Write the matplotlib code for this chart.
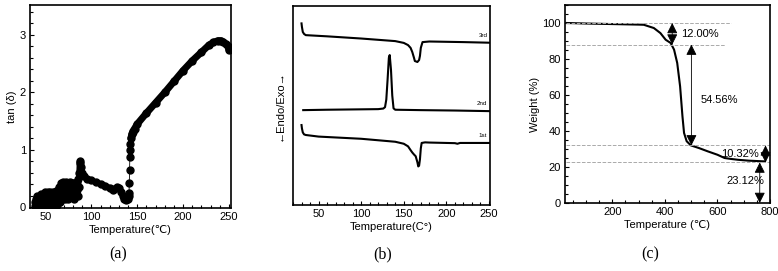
import matplotlib
matplotlib.use('Agg')
import matplotlib.pyplot as plt
from matplotlib.ticker import MultipleLocator

plt.rcParams['font.family'] = ['Liberation Sans', 'DejaVu Sans']
plt.rcParams['font.size'] = 8

# (a) tan(delta) vs temperature: noisy low-temperature part (scatter only)
noise_t = [38, 39, 40, 41, 42, 43, 44, 45, 46, 47,
           38.5, 39.5, 40.5, 41.5, 42.5, 43.5, 44.5, 45.5, 46.5, 47.5,
           48, 49, 50, 51, 52, 53, 54, 55, 56, 57,
           48.5, 49.5, 50.5, 51.5, 52.5, 53.5, 54.5, 55.5, 56.5, 57.5,
           58, 59, 60, 61, 62, 63, 64, 65, 66, 67,
           58.5, 59.5, 60.5, 61.5, 62.5, 63.5, 64.5, 65.5, 66.5, 67.5,
           68, 69, 70, 71, 72, 73, 74, 75, 76, 77,
           68.5, 69.5, 70.5, 71.5, 72.5, 73.5, 74.5, 75.5, 76.5, 77.5,
           78, 79, 80, 81, 82, 83, 84, 85,
           78.5, 79.5, 80.5, 81.5, 82.5, 83.5, 84.5, 85.5]
noise_v = [0.02, 0.15, 0.0, 0.2, 0.05, 0.12, 0.18, 0.0, 0.22, 0.08,
           0.1, 0.05, 0.12, 0.0, 0.18, 0.03, 0.1, 0.24, 0.03, 0.2,
           0.0, 0.27, 0.1, 0.02, 0.22, 0.26, 0.05, 0.2, 0.0, 0.24,
           0.15, 0.05, 0.25, 0.12, 0.0, 0.1, 0.27, 0.02, 0.15, 0.22,
           0.02, 0.22, 0.1, 0.28, 0.05, 0.3, 0.12, 0.35, 0.1, 0.42,
           0.27, 0.05, 0.2, 0.08, 0.22, 0.15, 0.25, 0.18, 0.38, 0.2,
           0.15, 0.44, 0.22, 0.32, 0.45, 0.28, 0.2, 0.4, 0.25, 0.44,
           0.38, 0.2, 0.42, 0.15, 0.3, 0.38, 0.15, 0.33, 0.18, 0.3,
           0.22, 0.3, 0.42, 0.15, 0.35, 0.25, 0.45, 0.2,
           0.38, 0.18, 0.28, 0.43, 0.2, 0.4, 0.3, 0.5]
# connected part
main_t = [86, 86.5, 87, 88, 89, 90, 92, 95, 100, 105,
          110, 115, 120, 123, 125, 128, 130, 132, 134, 136,
          138, 139.5, 140.5, 141, 141.3, 141.6, 141.9, 142.2, 142.5, 143,
          144, 145, 147, 150, 160, 170, 180, 190, 200, 210,
          220, 228, 233, 238, 241, 244, 247, 249, 250]
main_v = [0.35, 0.6, 0.8, 0.78, 0.7, 0.6, 0.55, 0.5, 0.47, 0.44,
          0.41, 0.38, 0.34, 0.3, 0.32, 0.36, 0.33, 0.27, 0.2, 0.15,
          0.13, 0.14, 0.2, 0.25, 0.42, 0.65, 0.87, 1.0, 1.1, 1.2,
          1.27, 1.32, 1.37, 1.45, 1.64, 1.82, 2.0, 2.19, 2.38, 2.55,
          2.7, 2.82, 2.87, 2.9, 2.9, 2.87, 2.84, 2.8, 2.74]

# (b) DSC curves (arbitrary units)
dsc3_t = [30, 30.5, 31.5, 33, 35, 60, 100, 140, 150, 155, 158, 160, 162, 163, 166, 168,
          169, 170, 172, 180, 220, 250]
dsc3_v = [91.3, 89.5, 87, 86, 85.4, 84.8, 83.7, 82.4, 81.5, 80.4, 79, 76.9, 74, 72.4,
          71.9, 72.9, 75, 79, 81.9, 82.2, 81.9, 81.6]
dsc2_t = [32, 60, 100, 120, 126, 128, 129.5, 131, 132.5, 133.5, 135, 136.5, 138, 140,
          170, 210, 250]
dsc2_v = [47.7, 47.9, 48.1, 48.2, 48.5, 49.2, 53, 63, 74, 75.4, 68, 55, 48.6, 47.9,
          47.7, 47.5, 47.2]
dsc1_t = [30, 30.5, 31.5, 33, 35, 50, 100, 140, 150, 155, 158, 160, 162, 164, 166, 167,
          168, 169, 170, 171, 175, 180, 210, 213, 216, 250]
dsc1_v = [40.2, 38.5, 36.5, 35.5, 35.2, 34.4, 33.3, 31.8, 30.8, 29.5, 27.6, 26.4, 25.4,
          24.5, 21.5, 19.4, 19.8, 23, 28.5, 31.2, 31.5, 31.4, 31.1, 30.8, 31.2, 31.2]
dsc_labels = ['3rd', '2nd', '1st']

# (c) TGA
tga_t = [25, 100, 200, 300, 320, 358, 383, 403, 422, 435, 447, 458, 467, 473, 483, 499,
         530, 563, 600, 627, 650, 678, 720, 781]
tga_w = [100, 99.7, 99.4, 99.1, 99, 97.2, 94.4, 90.7, 88.9, 85.2, 77.8, 64.8, 48.1, 38.9,
         34.3, 32, 30.5, 28.7, 26.8, 25, 24.5, 24, 23.5, 23.1]
steps = [100, 88, 32, 22.5, 0]
step_labels = ['12.00%', '54.56%', '10.32%', '23.12%']

fig = plt.figure(figsize=(7.78, 2.71), dpi=100)

# ---- (a)
ax1 = fig.add_axes([0.0386, 0.2325, 0.258, 0.749])
ax1.plot(main_t, main_v, '-', color='black', lw=0.6)
ax1.plot(main_t[1:22], main_v[1:22], '-', color='black', lw=4, solid_capstyle='round')
ax1.plot(main_t[29:], main_v[29:], '-', color='black', lw=5, solid_capstyle='round')
ax1.plot(noise_t, noise_v, 'o', color='black', ms=5)
ax1.plot(main_t, main_v, 'o', color='black', ms=5)
ax1.set_xlim(33, 252)
ax1.set_ylim(-0.01, 3.52)
ax1.set_xticks([50, 100, 150, 200, 250])
ax1.set_yticks([0, 1, 2, 3])
ax1.xaxis.set_minor_locator(MultipleLocator(10))
ax1.yaxis.set_minor_locator(MultipleLocator(0.2))
ax1.set_xlabel('Temperature(\u2103)', labelpad=2)
ax1.set_ylabel('tan (\u03b4)', labelpad=2)

# ---- (b)
ax2 = fig.add_axes([0.3766, 0.2435, 0.253, 0.734])
for t, v, lab in zip([dsc3_t, dsc2_t, dsc1_t], [dsc3_v, dsc2_v, dsc1_v], dsc_labels):
    ax2.plot(t, v, '-', color='black', lw=1.5)
    ax2.text(248, v[-1] + 2.5, lab, fontsize=4.5, ha='right', va='bottom')
ax2.set_xlim(20, 251)
ax2.set_ylim(0, 100)
ax2.set_xticks([50, 100, 150, 200, 250])
ax2.set_yticks([])
ax2.xaxis.set_minor_locator(MultipleLocator(10))
ax2.set_xlabel('Temperature(C\u00b0)', labelpad=2)
ax2.set_ylabel('\u2190Endo/Exo\u2192', labelpad=6)

# ---- (c)
ax3 = fig.add_axes([0.7262, 0.251, 0.2635, 0.7306])
ax3.plot(tga_t, tga_w, '-', color='black', lw=1.5)
ax3.hlines(steps[0], 25, 650, colors='#aaaaaa', linestyles='--', lw=0.7)
ax3.hlines(steps[1], 25, 627, colors='#aaaaaa', linestyles='--', lw=0.7)
ax3.hlines(steps[2], 25, 800, colors='#aaaaaa', linestyles='--', lw=0.7)
ax3.hlines(steps[3], 25, 800, colors='#aaaaaa', linestyles='--', lw=0.7)
arrow_x = [428, 501, 783, 761]
label_pos = [(463, 94, 'left'), (537, 57, 'left'), (757, 27, 'right'), (633, 12, 'left')]
for i in range(4):
    ax3.annotate('', xy=(arrow_x[i], steps[i + 1]), xytext=(arrow_x[i], steps[i]),
                 arrowprops=dict(arrowstyle='<|-|>,head_length=0.8,head_width=0.4',
                                 color='black', lw=0.6, shrinkA=0, shrinkB=0))
    lx, ly, ha = label_pos[i]
    ax3.text(lx, ly, step_labels[i], fontsize=8, ha=ha, va='center')
ax3.set_xlim(20, 800)
ax3.set_ylim(0, 110)
ax3.set_xticks([200, 400, 600, 800])
ax3.set_yticks([0, 20, 40, 60, 80, 100])
ax3.xaxis.set_minor_locator(MultipleLocator(50))
ax3.yaxis.set_minor_locator(MultipleLocator(5))
ax3.set_xlabel('Temperature (\u2103)', labelpad=2)
ax3.set_ylabel('Weight (%)', labelpad=2)

for ax in (ax1, ax2, ax3):
    ax.tick_params(which='both', direction='in', width=0.8, labelsize=8, pad=3)
    ax.tick_params(which='major', length=3)
    ax.tick_params(which='minor', length=2)
    for s in ax.spines.values():
        s.set_linewidth(1.2)

for x, lab in [(118, '(a)'), (383, '(b)'), (650, '(c)')]:
    fig.text(x / 778, 1 - 254 / 271, lab, ha='center', va='center', fontsize=11.5,
             family=['Liberation Serif', 'DejaVu Serif'])

fig.savefig('out.png', dpi=100)
